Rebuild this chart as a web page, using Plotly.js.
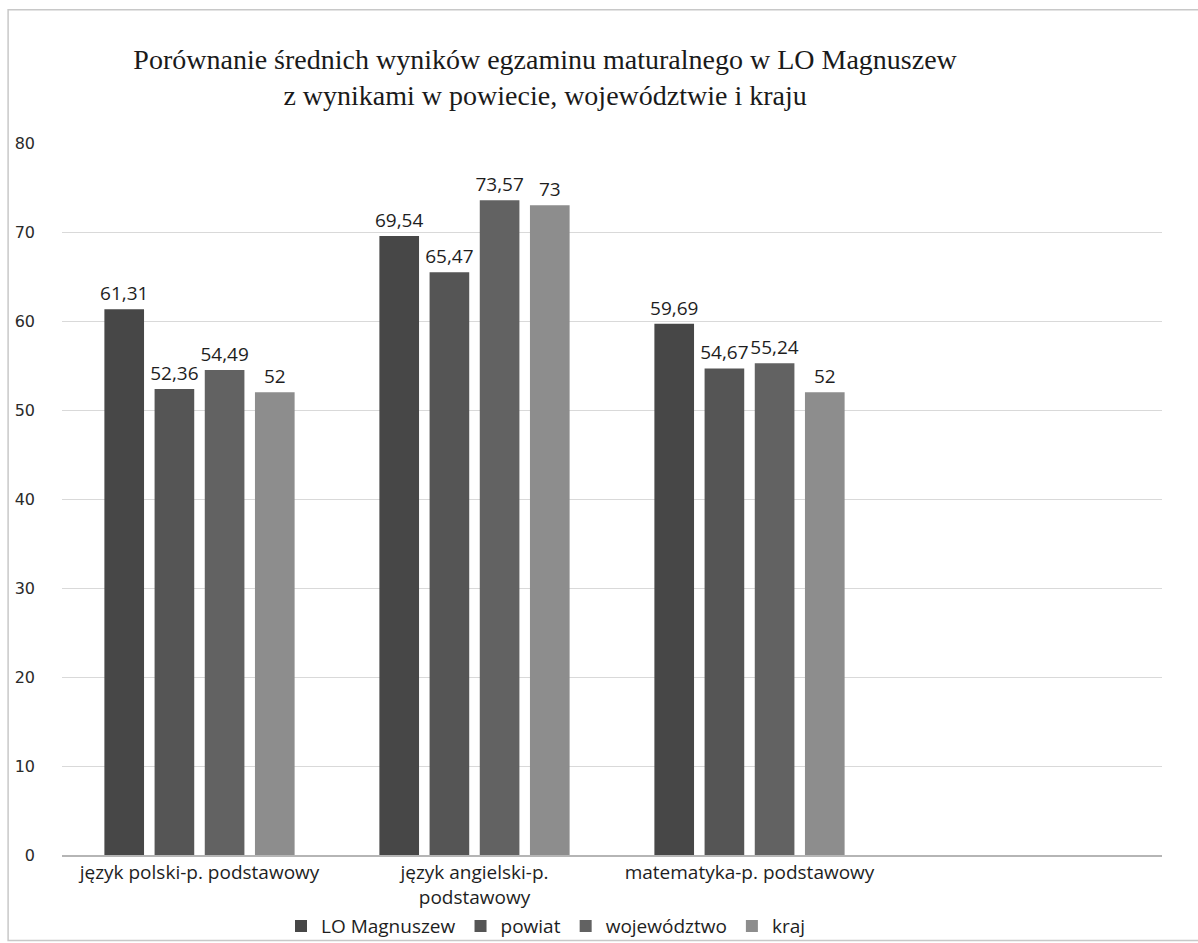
<!DOCTYPE html>
<html>
<head>
<meta charset="utf-8">
<script src="https://cdn.plot.ly/plotly-3.0.1.min.js"></script>
<style>html,body{margin:0;padding:0;background:#fff;}#chart{width:1198px;height:943px;}</style>
</head>
<body>
<div id="chart"></div>
<script>
const categories = ["język polski-p. podstawowy", "język angielski-p.<br>podstawowy", "matematyka-p. podstawowy", " "];
const seriesNames = ["LO Magnuszew", "powiat", "województwo", "kraj"];
const loMagnuszew = [61.31, 69.54, 59.69, null];
const powiat = [52.36, 65.47, 54.67, null];
const wojewodztwo = [54.49, 73.57, 55.24, null];
const kraj = [52, 73, 52, null];
const yTicks = [0, 10, 20, 30, 40, 50, 60, 70, 80];

const colors = ["#474747", "#555555", "#626262", "#8d8d8d"];
const allSeries = [loMagnuszew, powiat, wojewodztwo, kraj];

const fmt = v => v === null ? "" : String(v).replace(".", ",");

const traces = allSeries.map((vals, i) => ({
  type: "bar",
  name: seriesNames[i],
  x: categories,
  y: vals,
  text: vals.map(fmt),
  textposition: "outside",
  constraintext: "none",
  cliponaxis: false,
  textfont: {family: "Open Sans", size: 19, color: "#1e1e1e"},
  marker: {color: colors[i], line: {width: 0}},
  hoverinfo: "skip"
}));

const layout = {
  width: 1198,
  height: 943,
  margin: {l: 62, r: 36, t: 143, b: 88, autoexpand: false},
  paper_bgcolor: "#ffffff",
  plot_bgcolor: "#ffffff",
  barmode: "group",
  bargap: 0.27,
  bargroupgap: 0.21,
  separators: ",.",
  title: {
    text: "Porównanie średnich wyników egzaminu maturalnego w LO Magnuszew<br>z wynikami w powiecie, województwie i kraju",
    font: {family: "Liberation Serif", size: 28, color: "#1a1a1a"},
    x: 0.455, xanchor: "center",
    y: 0.927, yanchor: "middle"
  },
  xaxis: {
    type: "category",
    tickfont: {family: "Open Sans", size: 19, color: "#1e1e1e"},
    showgrid: false,
    showline: true,
    linecolor: "#b5b5b5",
    linewidth: 1.5,
    ticks: "",
    ticklabelstandoff: 0,
    automargin: false,
    fixedrange: true
  },
  yaxis: {
    range: [0, 80],
    tickvals: yTicks,
    ticktext: yTicks.map(String),
    tickfont: {family: "DejaVu Sans", size: 16, color: "#2a2a2a"},
    showgrid: true,
    gridcolor: "#d9d9d9",
    gridwidth: 1,
    zeroline: false,
    showline: false,
    ticks: "",
    ticklabelstandoff: 26,
    automargin: false,
    fixedrange: true
  },
  legend: {
    orientation: "h",
    x: 0.44, xanchor: "center",
    y: -0.1, yanchor: "middle",
    bgcolor: "rgba(0,0,0,0)",
    font: {family: "Open Sans", size: 19, color: "#1e1e1e"},
    itemwidth: 30,
    tracegroupgap: 0,
    traceorder: "normal"
  },
  showlegend: true,
  shapes: [
    {type: "rect", xref: "paper", yref: "paper", x0: -0.049, x1: 1.1, y0: -0.12, y1: 1.187,
     line: {color: "#c8c8c8", width: 1.5}, fillcolor: "rgba(0,0,0,0)", layer: "below"}
  ]
};

Plotly.newPlot("chart", traces, layout, {displayModeBar: false, staticPlot: true});
</script>
</body>
</html>
